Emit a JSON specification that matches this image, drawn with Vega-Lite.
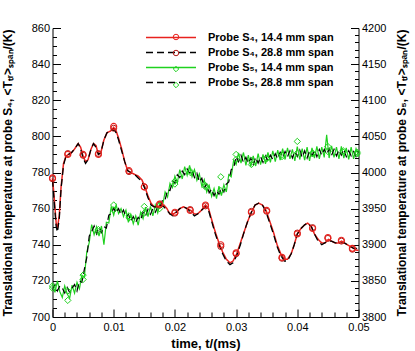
{
  "$schema": "https://vega.github.io/schema/vega-lite/v6.json",
  "width": 306,
  "height": 289,
  "autosize": {"type": "none"},
  "padding": {"left": 52.5, "top": 28, "right": 56.5, "bottom": 34},
  "background": "white",
  "config": {
    "view": {"stroke": null},
    "font": "Liberation Sans",
    "axis": {"grid": false, "domainColor": "black", "domainWidth": 1, "tickColor": "black", "tickWidth": 1, "labelColor": "black", "labelFontSize": 11, "labelFont": "Liberation Sans", "titleColor": "black", "titleFont": "Liberation Sans", "titleFontSize": 13, "titleFontWeight": "bold", "labelFlush": false, "labelOverlap": false}
  },
  "datasets": {
    "s4a": [
      {"t":0,"T":777},{"t":0.0003,"T":765},{"t":0.0006,"T":752},{"t":0.0008,"T":749},{"t":0.0011,"T":756},{"t":0.0014,"T":772},{"t":0.0018,"T":785},{"t":0.0022,"T":789},{"t":0.0026,"T":790},{"t":0.0031,"T":791},{"t":0.0036,"T":793},{"t":0.0042,"T":796},{"t":0.0046,"T":794},{"t":0.005,"T":789},{"t":0.0054,"T":786},{"t":0.0058,"T":787},{"t":0.0063,"T":793},{"t":0.0067,"T":796},{"t":0.0071,"T":795},{"t":0.0075,"T":790},{"t":0.0079,"T":791},{"t":0.0084,"T":798},{"t":0.0089,"T":802},{"t":0.0095,"T":803},{"t":0.01,"T":805},{"t":0.0104,"T":803},{"t":0.0108,"T":799},{"t":0.0113,"T":793},{"t":0.0118,"T":786},{"t":0.0123,"T":781},{"t":0.0128,"T":780},{"t":0.0134,"T":779},{"t":0.014,"T":778},{"t":0.0146,"T":776},{"t":0.0151,"T":772},{"t":0.0156,"T":767},{"t":0.0161,"T":763},{"t":0.0166,"T":761},{"t":0.0172,"T":761},{"t":0.0177,"T":762},{"t":0.0182,"T":762},{"t":0.0187,"T":760},{"t":0.0192,"T":757},{"t":0.0197,"T":757},{"t":0.0202,"T":758},{"t":0.0208,"T":760},{"t":0.0214,"T":761},{"t":0.022,"T":760},{"t":0.0226,"T":759},{"t":0.0232,"T":757},{"t":0.0237,"T":757},{"t":0.0243,"T":759},{"t":0.025,"T":762},{"t":0.0255,"T":760},{"t":0.026,"T":754},{"t":0.0266,"T":747},{"t":0.0272,"T":741},{"t":0.0278,"T":736},{"t":0.0284,"T":732},{"t":0.029,"T":730},{"t":0.0295,"T":731},{"t":0.0301,"T":735},{"t":0.0307,"T":741},{"t":0.0313,"T":747},{"t":0.0319,"T":753},{"t":0.0325,"T":758},{"t":0.0331,"T":762},{"t":0.0337,"T":763},{"t":0.0343,"T":762},{"t":0.0349,"T":759},{"t":0.0355,"T":753},{"t":0.0361,"T":747},{"t":0.0367,"T":740},{"t":0.0373,"T":735},{"t":0.0379,"T":732},{"t":0.0384,"T":732},{"t":0.039,"T":735},{"t":0.0395,"T":740},{"t":0.04,"T":746},{"t":0.0406,"T":749},{"t":0.0412,"T":751},{"t":0.0417,"T":752},{"t":0.0423,"T":750},{"t":0.0428,"T":746},{"t":0.0434,"T":743},{"t":0.044,"T":741},{"t":0.0445,"T":741},{"t":0.0451,"T":743},{"t":0.0456,"T":742},{"t":0.0462,"T":741},{"t":0.0467,"T":741},{"t":0.0472,"T":742},{"t":0.0477,"T":741},{"t":0.0482,"T":740},{"t":0.0487,"T":739},{"t":0.0492,"T":738},{"t":0.0497,"T":737},{"t":0.05,"T":737}
    ],
    "s4b": [
      {"t":0,"T":776},{"t":0.0003,"T":763},{"t":0.0006,"T":750},{"t":0.0008,"T":747},{"t":0.0011,"T":754},{"t":0.0014,"T":771},{"t":0.0018,"T":784},{"t":0.0022,"T":789},{"t":0.0026,"T":790},{"t":0.0031,"T":791},{"t":0.0036,"T":793},{"t":0.0042,"T":796},{"t":0.0046,"T":793},{"t":0.005,"T":788},{"t":0.0054,"T":785},{"t":0.0058,"T":787},{"t":0.0063,"T":793},{"t":0.0067,"T":796},{"t":0.0071,"T":794},{"t":0.0075,"T":790},{"t":0.0079,"T":791},{"t":0.0084,"T":798},{"t":0.0089,"T":802},{"t":0.0095,"T":803},{"t":0.01,"T":804},{"t":0.0104,"T":802},{"t":0.0108,"T":798},{"t":0.0113,"T":792},{"t":0.0118,"T":786},{"t":0.0123,"T":781},{"t":0.0128,"T":780},{"t":0.0134,"T":779},{"t":0.014,"T":777},{"t":0.0146,"T":775},{"t":0.0151,"T":771},{"t":0.0156,"T":766},{"t":0.0161,"T":762},{"t":0.0166,"T":761},{"t":0.0172,"T":761},{"t":0.0177,"T":762},{"t":0.0182,"T":761},{"t":0.0187,"T":759},{"t":0.0192,"T":757},{"t":0.0197,"T":756},{"t":0.0202,"T":758},{"t":0.0208,"T":760},{"t":0.0214,"T":761},{"t":0.022,"T":760},{"t":0.0226,"T":758},{"t":0.0232,"T":756},{"t":0.0237,"T":757},{"t":0.0243,"T":759},{"t":0.025,"T":761},{"t":0.0255,"T":759},{"t":0.026,"T":753},{"t":0.0266,"T":746},{"t":0.0272,"T":740},{"t":0.0278,"T":735},{"t":0.0284,"T":731},{"t":0.029,"T":729},{"t":0.0295,"T":730},{"t":0.0301,"T":734},{"t":0.0307,"T":740},{"t":0.0313,"T":747},{"t":0.0319,"T":753},{"t":0.0325,"T":758},{"t":0.0331,"T":762},{"t":0.0337,"T":763},{"t":0.0343,"T":762},{"t":0.0349,"T":758},{"t":0.0355,"T":752},{"t":0.0361,"T":746},{"t":0.0367,"T":739},{"t":0.0373,"T":734},{"t":0.0379,"T":731},{"t":0.0384,"T":731},{"t":0.039,"T":735},{"t":0.0395,"T":740},{"t":0.04,"T":746},{"t":0.0406,"T":749},{"t":0.0412,"T":751},{"t":0.0417,"T":752},{"t":0.0423,"T":750},{"t":0.0428,"T":746},{"t":0.0434,"T":742},{"t":0.044,"T":740},{"t":0.0445,"T":741},{"t":0.0451,"T":742},{"t":0.0456,"T":742},{"t":0.0462,"T":741},{"t":0.0467,"T":741},{"t":0.0472,"T":741},{"t":0.0477,"T":741},{"t":0.0482,"T":740},{"t":0.0487,"T":739},{"t":0.0492,"T":738},{"t":0.0497,"T":738},{"t":0.05,"T":737}
    ],
    "s4am": [
      {"t":0,"T":777},{"t":0.0025,"T":790},{"t":0.005,"T":790},{"t":0.0075,"T":790},{"t":0.01,"T":805.5},{"t":0.0125,"T":781},{"t":0.015,"T":772},{"t":0.0175,"T":762.5},{"t":0.02,"T":758},{"t":0.0225,"T":759},{"t":0.025,"T":762},{"t":0.0275,"T":740},{"t":0.03,"T":735.5},{"t":0.0325,"T":758},{"t":0.035,"T":759},{"t":0.0375,"T":733},{"t":0.04,"T":746},{"t":0.0425,"T":749},{"t":0.045,"T":744},{"t":0.0472,"T":742.5},{"t":0.049,"T":738}
    ],
    "s4bm": [
      {"t":0,"T":776.5},{"t":0.0025,"T":790.5},{"t":0.005,"T":789.5},{"t":0.0075,"T":790.5},{"t":0.01,"T":804.5},{"t":0.0125,"T":780.5},{"t":0.015,"T":772},{"t":0.0175,"T":762},{"t":0.02,"T":757.5},{"t":0.0225,"T":759.5},{"t":0.025,"T":761.5},{"t":0.0275,"T":739},{"t":0.03,"T":735},{"t":0.0325,"T":758.5},{"t":0.035,"T":758.5},{"t":0.0375,"T":732.5},{"t":0.04,"T":746.5},{"t":0.0425,"T":749.5},{"t":0.045,"T":743.5},{"t":0.0472,"T":742},{"t":0.049,"T":737.5}
    ],
    "s5a": [
      {"t":0,"T":3846},{"t":0.0004,"T":3834},{"t":0.0008,"T":3850},{"t":0.0012,"T":3835},{"t":0.0016,"T":3827},{"t":0.002,"T":3843},{"t":0.0024,"T":3832},{"t":0.0028,"T":3826},{"t":0.0032,"T":3844},{"t":0.0036,"T":3833},{"t":0.004,"T":3848},{"t":0.0044,"T":3839},{"t":0.0048,"T":3858},{"t":0.0052,"T":3855},{"t":0.0056,"T":3890},{"t":0.006,"T":3903},{"t":0.0064,"T":3928},{"t":0.0068,"T":3914},{"t":0.0072,"T":3925},{"t":0.0076,"T":3912},{"t":0.008,"T":3926},{"t":0.0084,"T":3900},{"t":0.0088,"T":3931},{"t":0.0092,"T":3930},{"t":0.0096,"T":3953},{"t":0.01,"T":3941},{"t":0.0104,"T":3955},{"t":0.0108,"T":3943},{"t":0.0112,"T":3950},{"t":0.0116,"T":3939},{"t":0.012,"T":3948},{"t":0.0124,"T":3931},{"t":0.0128,"T":3942},{"t":0.0132,"T":3929},{"t":0.0136,"T":3940},{"t":0.014,"T":3927},{"t":0.0144,"T":3945},{"t":0.0148,"T":3936},{"t":0.0152,"T":3952},{"t":0.0156,"T":3939},{"t":0.016,"T":3953},{"t":0.0164,"T":3940},{"t":0.0168,"T":3955},{"t":0.0172,"T":3944},{"t":0.0176,"T":3960},{"t":0.018,"T":3955},{"t":0.0184,"T":3973},{"t":0.0188,"T":3966},{"t":0.0192,"T":3985},{"t":0.0196,"T":3979},{"t":0.02,"T":3995},{"t":0.0204,"T":3986},{"t":0.0208,"T":4004},{"t":0.0212,"T":3991},{"t":0.0216,"T":4008},{"t":0.022,"T":3996},{"t":0.0224,"T":4010},{"t":0.0228,"T":3994},{"t":0.0232,"T":4004},{"t":0.0236,"T":3989},{"t":0.024,"T":3998},{"t":0.0244,"T":3981},{"t":0.0248,"T":3990},{"t":0.0252,"T":3973},{"t":0.0256,"T":3982},{"t":0.026,"T":3967},{"t":0.0264,"T":3978},{"t":0.0268,"T":3964},{"t":0.0272,"T":3981},{"t":0.0276,"T":3968},{"t":0.028,"T":3983},{"t":0.0284,"T":3973},{"t":0.0288,"T":3997},{"t":0.0292,"T":3994},{"t":0.0296,"T":4017},{"t":0.03,"T":4011},{"t":0.0304,"T":4027},{"t":0.0308,"T":4013},{"t":0.0312,"T":4028},{"t":0.0316,"T":4010},{"t":0.032,"T":4024},{"t":0.0324,"T":4008},{"t":0.0328,"T":4023},{"t":0.0332,"T":4009},{"t":0.0336,"T":4026},{"t":0.034,"T":4011},{"t":0.0344,"T":4025},{"t":0.0348,"T":4012},{"t":0.0352,"T":4028},{"t":0.0356,"T":4014},{"t":0.036,"T":4030},{"t":0.0364,"T":4015},{"t":0.0368,"T":4031},{"t":0.0372,"T":4017},{"t":0.0376,"T":4033},{"t":0.038,"T":4018},{"t":0.0384,"T":4034},{"t":0.0388,"T":4019},{"t":0.0392,"T":4032},{"t":0.0396,"T":4016},{"t":0.04,"T":4036},{"t":0.0404,"T":4018},{"t":0.0408,"T":4033},{"t":0.0412,"T":4017},{"t":0.0416,"T":4035},{"t":0.042,"T":4016},{"t":0.0424,"T":4034},{"t":0.0428,"T":4020},{"t":0.0432,"T":4036},{"t":0.0436,"T":4019},{"t":0.044,"T":4035},{"t":0.0444,"T":4021},{"t":0.0448,"T":4052},{"t":0.0452,"T":4020},{"t":0.0456,"T":4037},{"t":0.046,"T":4021},{"t":0.0464,"T":4035},{"t":0.0468,"T":4019},{"t":0.0472,"T":4036},{"t":0.0476,"T":4020},{"t":0.048,"T":4034},{"t":0.0484,"T":4018},{"t":0.0488,"T":4035},{"t":0.0492,"T":4019},{"t":0.0496,"T":4033},{"t":0.05,"T":4022}
    ],
    "s5b": [
      {"t":0,"T":3838},{"t":0.0004,"T":3845},{"t":0.0008,"T":3836},{"t":0.0012,"T":3843},{"t":0.0016,"T":3840},{"t":0.002,"T":3833},{"t":0.0024,"T":3841},{"t":0.0028,"T":3834},{"t":0.0032,"T":3840},{"t":0.0036,"T":3845},{"t":0.004,"T":3836},{"t":0.0044,"T":3850},{"t":0.0048,"T":3848},{"t":0.0052,"T":3866},{"t":0.0056,"T":3882},{"t":0.006,"T":3912},{"t":0.0064,"T":3918},{"t":0.0068,"T":3926},{"t":0.0072,"T":3915},{"t":0.0076,"T":3924},{"t":0.008,"T":3917},{"t":0.0084,"T":3925},{"t":0.0088,"T":3923},{"t":0.0092,"T":3941},{"t":0.0096,"T":3943},{"t":0.01,"T":3951},{"t":0.0104,"T":3944},{"t":0.0108,"T":3950},{"t":0.0112,"T":3942},{"t":0.0116,"T":3948},{"t":0.012,"T":3938},{"t":0.0124,"T":3942},{"t":0.0128,"T":3933},{"t":0.0132,"T":3939},{"t":0.0136,"T":3931},{"t":0.014,"T":3938},{"t":0.0144,"T":3934},{"t":0.0148,"T":3945},{"t":0.0152,"T":3940},{"t":0.0156,"T":3949},{"t":0.016,"T":3942},{"t":0.0164,"T":3950},{"t":0.0168,"T":3945},{"t":0.0172,"T":3953},{"t":0.0176,"T":3951},{"t":0.018,"T":3963},{"t":0.0184,"T":3962},{"t":0.0188,"T":3976},{"t":0.0192,"T":3975},{"t":0.0196,"T":3988},{"t":0.02,"T":3985},{"t":0.0204,"T":3997},{"t":0.0208,"T":3993},{"t":0.0212,"T":4002},{"t":0.0216,"T":3997},{"t":0.022,"T":4005},{"t":0.0224,"T":3999},{"t":0.0228,"T":4003},{"t":0.0232,"T":3993},{"t":0.0236,"T":3999},{"t":0.024,"T":3987},{"t":0.0244,"T":3992},{"t":0.0248,"T":3979},{"t":0.0252,"T":3984},{"t":0.0256,"T":3972},{"t":0.026,"T":3977},{"t":0.0264,"T":3968},{"t":0.0268,"T":3975},{"t":0.0272,"T":3970},{"t":0.0276,"T":3979},{"t":0.028,"T":3973},{"t":0.0284,"T":3984},{"t":0.0288,"T":3987},{"t":0.0292,"T":4004},{"t":0.0296,"T":4006},{"t":0.03,"T":4022},{"t":0.0304,"T":4015},{"t":0.0308,"T":4024},{"t":0.0312,"T":4014},{"t":0.0316,"T":4021},{"t":0.032,"T":4012},{"t":0.0324,"T":4020},{"t":0.0328,"T":4011},{"t":0.0332,"T":4021},{"t":0.0336,"T":4013},{"t":0.034,"T":4022},{"t":0.0344,"T":4014},{"t":0.0348,"T":4023},{"t":0.0352,"T":4016},{"t":0.0356,"T":4024},{"t":0.036,"T":4018},{"t":0.0364,"T":4026},{"t":0.0368,"T":4019},{"t":0.0372,"T":4028},{"t":0.0376,"T":4021},{"t":0.038,"T":4029},{"t":0.0384,"T":4022},{"t":0.0388,"T":4030},{"t":0.0392,"T":4020},{"t":0.0396,"T":4029},{"t":0.04,"T":4022},{"t":0.0404,"T":4031},{"t":0.0408,"T":4021},{"t":0.0412,"T":4030},{"t":0.0416,"T":4020},{"t":0.042,"T":4030},{"t":0.0424,"T":4023},{"t":0.0428,"T":4031},{"t":0.0432,"T":4022},{"t":0.0436,"T":4032},{"t":0.044,"T":4024},{"t":0.0444,"T":4032},{"t":0.0448,"T":4025},{"t":0.0452,"T":4033},{"t":0.0456,"T":4024},{"t":0.046,"T":4032},{"t":0.0464,"T":4023},{"t":0.0468,"T":4031},{"t":0.0472,"T":4024},{"t":0.0476,"T":4032},{"t":0.048,"T":4022},{"t":0.0484,"T":4030},{"t":0.0488,"T":4023},{"t":0.0492,"T":4029},{"t":0.0496,"T":4022},{"t":0.05,"T":4028}
    ],
    "s5am": [
      {"t":0,"T":3843},{"t":0.0025,"T":3823},{"t":0.005,"T":3858},{"t":0.0075,"T":3921},{"t":0.01,"T":3955},{"t":0.0125,"T":3940},{"t":0.015,"T":3953},{"t":0.0175,"T":3950},{"t":0.02,"T":3988},{"t":0.0225,"T":4000},{"t":0.025,"T":3982},{"t":0.0275,"T":3994},{"t":0.03,"T":4025},{"t":0.0325,"T":4011},{"t":0.035,"T":4020},{"t":0.0375,"T":4022},{"t":0.04,"T":4043},{"t":0.0425,"T":4026},{"t":0.045,"T":4036},{"t":0.0475,"T":4030},{"t":0.0498,"T":4028}
    ],
    "s5bm": [
      {"t":0,"T":3840},{"t":0.0025,"T":3836},{"t":0.005,"T":3852},{"t":0.0075,"T":3918},{"t":0.01,"T":3948},{"t":0.0125,"T":3937},{"t":0.015,"T":3944},{"t":0.0175,"T":3954},{"t":0.02,"T":3984},{"t":0.0225,"T":4002},{"t":0.025,"T":3980},{"t":0.0275,"T":3975},{"t":0.03,"T":4018},{"t":0.0325,"T":4017},{"t":0.035,"T":4019},{"t":0.0375,"T":4024},{"t":0.04,"T":4027},{"t":0.0425,"T":4027},{"t":0.045,"T":4029},{"t":0.0475,"T":4028},{"t":0.0498,"T":4026}
    ]
  },
  "encoding": {
    "x": {
      "field": "t", "type": "quantitative",
      "scale": {"domain": [0, 0.05], "nice": false, "zero": false},
      "axis": {
        "values": [0,0.002,0.004,0.006,0.008,0.01,0.012,0.014,0.016,0.018,0.02,0.022,0.024,0.026,0.028,0.03,0.032,0.034,0.036,0.038,0.04,0.042,0.044,0.046,0.048,0.05],
        "format": ".2~f",
        "labelExpr": "abs(datum.value*100 - round(datum.value*100)) < 0.001 ? datum.label : ''",
        "tickSize": {"condition": {"test": "abs(datum.value*100 - round(datum.value*100)) < 0.001", "value": -8}, "value": -5},
        "labelPadding": 12,
        "title": "time, t/(ms)",
        "titlePadding": 2
      }
    }
  },
  "layer": [
    {
      "encoding": {
        "y": {
          "field": "T", "type": "quantitative",
          "scale": {"domain": [3800, 4200], "nice": false, "zero": false},
          "axis": {
            "orient": "right",
            "values": [3800,3810,3820,3830,3840,3850,3860,3870,3880,3890,3900,3910,3920,3930,3940,3950,3960,3970,3980,3990,4000,4010,4020,4030,4040,4050,4060,4070,4080,4090,4100,4110,4120,4130,4140,4150,4160,4170,4180,4190,4200],
            "format": "d",
            "labelExpr": "datum.value % 50 === 0 ? datum.label : ''",
            "tickSize": {"condition": {"test": "datum.value % 50 === 0", "value": -8}, "value": -4},
            "labelPadding": 11,
            "title": "Translational temperature at probe S₅, <Tₜᵣ>ₛₚₐₙ/(K)",
            "titleFontSize": 12,
            "titleAngle": -90,
            "titleBaseline": "top",
            "titlePadding": 11
          }
        }
      },
      "layer": [
        {
          "data": {"name": "s5a"},
          "mark": {"type": "line", "strokeWidth": 1.2},
          "encoding": {
            "stroke": {
              "datum": "Probe S₅, 14.4 mm span", "type": "nominal",
              "scale": {"domain": ["Probe S₄, 14.4 mm span", "Probe S₄, 28.8 mm span", "Probe S₅, 14.4 mm span", "Probe S₅, 28.8 mm span"], "range": ["#e8221e", "#000000", "#1fd11f", "#000000"]},
              "legend": {"orient": "none", "legendX": 112.5, "legendY": 3.5, "padding": 0, "title": null, "symbolType": "M-5,0L5,0", "symbolSize": 100, "symbolStrokeWidth": 1.5, "labelFontSize": 11, "labelFontWeight": "bold", "labelFont": "Liberation Sans", "labelColor": "black", "labelOffset": 31, "rowPadding": 4}
            },
            "strokeDash": {
              "datum": "Probe S₅, 14.4 mm span", "type": "nominal",
              "scale": {"domain": ["Probe S₄, 14.4 mm span", "Probe S₄, 28.8 mm span", "Probe S₅, 14.4 mm span", "Probe S₅, 28.8 mm span"], "range": [[1, 0], [7, 4], [1, 0], [7, 4]]}
            }
          }
        },
        {
          "data": {"name": "s5b"},
          "mark": {"type": "line", "strokeWidth": 1.2},
          "encoding": {
            "stroke": {"datum": "Probe S₅, 28.8 mm span", "type": "nominal"},
            "strokeDash": {"datum": "Probe S₅, 28.8 mm span", "type": "nominal"}
          }
        },
        {
          "data": {"name": "s5am"},
          "mark": {"type": "point", "filled": false, "strokeWidth": 1, "size": 40, "opacity": 1},
          "encoding": {
            "color": {
              "datum": "S5-14.4", "type": "nominal",
              "scale": {"domain": ["S4-14.4", "S4-28.8", "S5-14.4", "S5-28.8"], "range": ["#e8221e", "#b01c18", "#1fd11f", "#1fd11f"]},
              "legend": {"orient": "none", "legendX": 118, "legendY": 3.5, "padding": 0, "title": null, "labelExpr": "' '", "labelOpacity": 0, "labelOffset": 0, "labelFontSize": 11, "labelFontWeight": "bold", "labelFont": "Liberation Sans", "rowPadding": 4, "symbolSize": 30, "symbolStrokeWidth": 1}
            },
            "shape": {
              "datum": "S5-14.4", "type": "nominal",
              "scale": {"domain": ["S4-14.4", "S4-28.8", "S5-14.4", "S5-28.8"], "range": ["circle", "circle", "diamond", "diamond"]}
            }
          }
        },
        {
          "data": {"name": "s5bm"},
          "mark": {"type": "point", "filled": false, "strokeWidth": 1, "size": 40, "opacity": 1},
          "encoding": {
            "color": {"datum": "S5-28.8", "type": "nominal"},
            "shape": {"datum": "S5-28.8", "type": "nominal"}
          }
        }
      ]
    },
    {
      "encoding": {
        "y": {
          "field": "T", "type": "quantitative",
          "scale": {"domain": [700, 860], "nice": false, "zero": false},
          "axis": {
            "orient": "left",
            "values": [700,705,710,715,720,725,730,735,740,745,750,755,760,765,770,775,780,785,790,795,800,805,810,815,820,825,830,835,840,845,850,855,860],
            "labelExpr": "datum.value % 20 === 0 ? datum.label : ''",
            "tickSize": {"condition": {"test": "datum.value % 20 === 0", "value": -8}, "value": -4},
            "labelPadding": 11,
            "title": "Translational temperature at probe S₄, <Tₜᵣ>ₛₚₐₙ/(K)",
            "titleFontSize": 12,
            "titlePadding": 17
          }
        }
      },
      "layer": [
        {
          "data": {"name": "s4a"},
          "mark": {"type": "line", "strokeWidth": 1.5},
          "encoding": {
            "stroke": {"datum": "Probe S₄, 14.4 mm span", "type": "nominal"},
            "strokeDash": {"datum": "Probe S₄, 14.4 mm span", "type": "nominal"}
          }
        },
        {
          "data": {"name": "s4b"},
          "mark": {"type": "line", "strokeWidth": 1.3},
          "encoding": {
            "stroke": {"datum": "Probe S₄, 28.8 mm span", "type": "nominal"},
            "strokeDash": {"datum": "Probe S₄, 28.8 mm span", "type": "nominal"}
          }
        },
        {
          "data": {"name": "s4bm"},
          "mark": {"type": "point", "filled": false, "strokeWidth": 1, "size": 36, "opacity": 1},
          "encoding": {
            "color": {"datum": "S4-28.8", "type": "nominal"},
            "shape": {"datum": "S4-28.8", "type": "nominal"}
          }
        },
        {
          "data": {"name": "s4am"},
          "mark": {"type": "point", "filled": false, "strokeWidth": 1.2, "size": 36, "opacity": 1},
          "encoding": {
            "color": {"datum": "S4-14.4", "type": "nominal"},
            "shape": {"datum": "S4-14.4", "type": "nominal"}
          }
        }
      ]
    }
  ],
  "resolve": {"scale": {"y": "independent"}}
}
